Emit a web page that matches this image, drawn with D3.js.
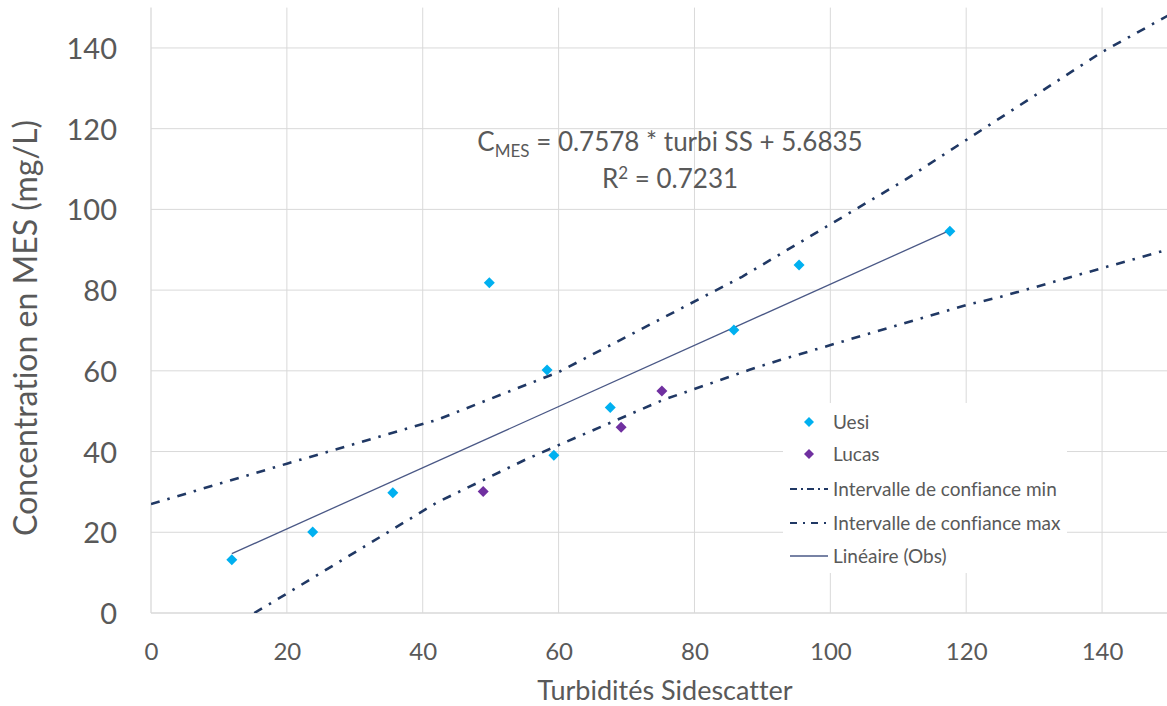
<!DOCTYPE html>
<html><head><meta charset="utf-8">
<script src="https://cdn.jsdelivr.net/npm/d3@7"></script>
<style>
html,body{margin:0;padding:0;background:#fff;overflow:hidden}
svg{display:block}
text{font-variant-ligatures:none}
</style></head>
<body>
<svg id="chart" width="1167" height="706"></svg>
<script>
// ---- data ----
const uesiX = [11.9, 23.8, 35.6, 49.8, 58.3, 59.3, 67.6, 85.8, 95.4, 117.6];
const uesiY = [13.2, 20.1, 29.8, 81.8, 60.2, 39.1, 50.9, 70.1, 86.2, 94.6];
const lucasX = [48.9, 69.2, 75.2];
const lucasY = [30.1, 46.0, 55.0];
const ciMaxX = [0, 20, 42, 60, 87, 111, 120, 140, 150];
const ciMaxY = [27.0, 37.0, 47.8, 59.7, 83.3, 107.3, 117.2, 139.0, 148.3];
const ciMinX = [15.2, 20, 42, 55, 60, 75.4, 88, 92.6, 120, 125, 150];
const ciMinY = [0, 4.8, 27.3, 37.9, 41.6, 52.8, 60.2, 62.7, 76.3, 78.3, 90.2];
const trendX = [11.9, 117.6];
const trendY = [14.7, 94.8];
const xTicks = [0, 20, 40, 60, 80, 100, 120, 140];
const yTicks = [0, 20, 40, 60, 80, 100, 120, 140];
const legendLabels = ["Uesi", "Lucas", "Intervalle de confiance min", "Intervalle de confiance max", "Linéaire (Obs)"];

// ---- layout ----
const svg = d3.select("#chart");
const x = d3.scaleLinear().domain([0, 150]).range([151, 1170]);
const y = d3.scaleLinear().domain([0, 150]).range([613, 7.6]);
const gridCol = "#d9d9d9", textCol = "#595959";
const navy = "#203864", uesiCol = "#00b0f0", lucasCol = "#7030a0", trendCol = "#4a5886";
const font = "Lato, 'Open Sans', sans-serif";

svg.append("defs").append("clipPath").attr("id","plotclip")
  .append("rect").attr("x",151).attr("y",7.6).attr("width",1167-151).attr("height",613-7.6);

// grid
const g = svg.append("g");
g.selectAll("line.vg").data(xTicks.slice(1)).join("line")
  .attr("x1", d=>x(d)).attr("x2", d=>x(d)).attr("y1", y(150)).attr("y2", y(0))
  .attr("stroke", gridCol).attr("stroke-width", 1);
g.selectAll("line.hg").data(yTicks.slice(1)).join("line")
  .attr("x1", x(0)).attr("x2", 1167).attr("y1", d=>y(d)).attr("y2", d=>y(d))
  .attr("stroke", gridCol).attr("stroke-width", 1);
// axis lines
g.append("line").attr("x1", x(0)).attr("x2", x(0)).attr("y1", y(150)).attr("y2", y(0)).attr("stroke", gridCol).attr("stroke-width",1.3);
g.append("line").attr("x1", x(0)).attr("x2", 1167).attr("y1", y(0)).attr("y2", y(0)).attr("stroke", gridCol).attr("stroke-width",1.3);

// axes labels via d3 axis
const xAxis = d3.axisBottom(x).tickValues(xTicks).tickSize(0).tickPadding(0);
const xa = svg.append("g").attr("transform", `translate(0,${y(0)})`).call(xAxis);
xa.select(".domain").remove();
xa.selectAll("text").attr("y", 47).attr("dy", 0).attr("fill", textCol)
  .style("font-family", font).style("font-size", "24px");

const yAxis = d3.axisLeft(y).tickValues(yTicks).tickSize(0).tickPadding(0);
const ya = svg.append("g").attr("transform", `translate(117,0)`).call(yAxis);
ya.select(".domain").remove();
ya.selectAll("text").attr("x", 0).attr("dy", "0.36em").attr("fill", textCol)
  .style("font-family", font).style("font-size", "29px");

// axis titles
svg.append("text").attr("x", 665).attr("y", 700).attr("text-anchor","middle")
  .attr("fill", textCol).style("font-family", font).style("font-size","27px").text("Turbidités Sidescatter");
svg.append("text").attr("transform","translate(37,328) rotate(-90)").attr("text-anchor","middle")
  .attr("fill", textCol).style("font-family", font).style("font-size","32px").text("Concentration en MES (mg/L)");

// lines
const line = d3.line().x(d=>x(d[0])).y(d=>y(d[1]));
const plot = svg.append("g").attr("clip-path","url(#plotclip)");
const dash = "9,8,2.5,8";
plot.append("path").datum(d3.zip(ciMaxX, ciMaxY)).attr("d", line)
  .attr("fill","none").attr("stroke", navy).attr("stroke-width", 2.6).attr("stroke-dasharray", dash);
plot.append("path").datum(d3.zip(ciMinX, ciMinY)).attr("d", line)
  .attr("fill","none").attr("stroke", navy).attr("stroke-width", 2.6).attr("stroke-dasharray", dash);
plot.append("path").datum(d3.zip(trendX, trendY)).attr("d", line)
  .attr("fill","none").attr("stroke", trendCol).attr("stroke-width", 1.3);

// markers
const diamond = (cx, cy, r) => `M${cx},${cy-r}L${cx+r},${cy}L${cx},${cy+r}L${cx-r},${cy}Z`;
plot.selectAll("path.u").data(d3.zip(uesiX, uesiY)).join("path")
  .attr("d", d=>diamond(x(d[0]), y(d[1]), 5.5)).attr("fill", uesiCol);
plot.selectAll("path.l").data(d3.zip(lucasX, lucasY)).join("path")
  .attr("d", d=>diamond(x(d[0]), y(d[1]), 5.5)).attr("fill", lucasCol);

// equation
const eq = svg.append("text").attr("x", 670).attr("y", 151).attr("text-anchor","middle")
  .attr("fill", textCol).style("font-family", font).style("font-size","26px");
eq.append("tspan").text("C");
eq.append("tspan").attr("dy", 6).style("font-size","17px").text("MES");
eq.append("tspan").attr("dy", -6).text(" = 0.7578 * turbi SS + 5.6835");
const r2 = svg.append("text").attr("x", 670).attr("y", 188).attr("text-anchor","middle")
  .attr("fill", textCol).style("font-family", font).style("font-size","26px");
r2.append("tspan").text("R");
r2.append("tspan").attr("dy", -9).style("font-size","17px").text("2");
r2.append("tspan").attr("dy", 9).text(" = 0.7231");

// legend
const lg = svg.append("g");
lg.append("rect").attr("x", 783).attr("y", 403).attr("width", 284).attr("height", 170).attr("fill", "#fff");
const ly = [422, 454, 489, 523, 556];
lg.selectAll("text").data(legendLabels).join("text")
  .attr("x", 833).attr("y", (d,i)=>ly[i]).attr("dy","0.35em")
  .attr("fill", textCol).style("font-family", font).style("font-size","19px").text(d=>d);
lg.append("path").attr("d", diamond(809, ly[0], 5)).attr("fill", uesiCol);
lg.append("path").attr("d", diamond(809, ly[1], 5)).attr("fill", lucasCol);
lg.append("line").attr("x1",790).attr("x2",828).attr("y1",ly[2]).attr("y2",ly[2])
  .attr("stroke", navy).attr("stroke-width",2.2).attr("stroke-dasharray","7,4,2,4");
lg.append("line").attr("x1",790).attr("x2",828).attr("y1",ly[3]).attr("y2",ly[3])
  .attr("stroke", navy).attr("stroke-width",2.2).attr("stroke-dasharray","7,6,2,6");
lg.append("line").attr("x1",790).attr("x2",828).attr("y1",ly[4]).attr("y2",ly[4])
  .attr("stroke", trendCol).attr("stroke-width",1.3);
</script>
</body></html>
